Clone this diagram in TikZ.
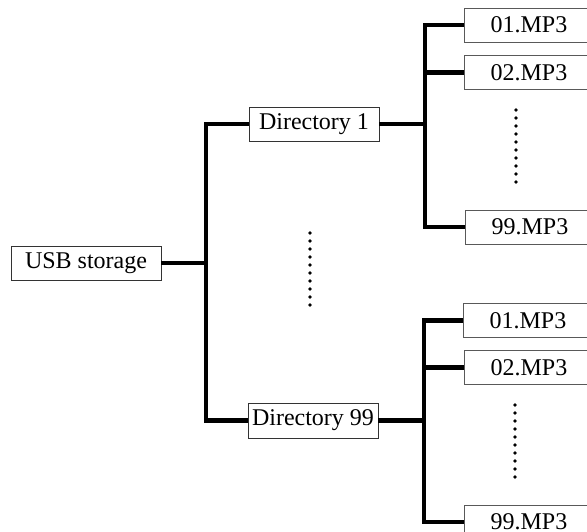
\documentclass[tikz,border=0pt]{standalone}
\usepackage{fontspec}
\setmainfont{Liberation Serif}
\begin{document}
\begin{tikzpicture}[x=1pt,y=-1pt,
  box/.style={draw=black!80,line width=0.9pt,fill=white,inner sep=0pt,
    font=\fontsize{24}{28}\selectfont,minimum height=34pt},
  filebox/.style={box,draw=black!65,minimum width=130pt},
  tree/.style={line width=4.2pt,line join=miter,line cap=butt},
  dotmark/.style={fill=black}]
\useasboundingbox (0,0) rectangle (587,531);
\clip (0,0) rectangle (587,531);
% root and directories
\node[box,minimum width=150pt] (usb) at (86,263) {USB storage};
\node[box,minimum width=130pt] (d1) at (314,124) {Directory 1};
\node[box,minimum width=130pt,minimum height=35pt] (d99) at (313,420.5) {Directory 99};
% files of directory 1
\node[filebox] (a1) at (529,25) {01.MP3};
\node[filebox] (a2) at (529,72.5) {02.MP3};
\node[filebox] (a99) at (530,227) {99.MP3};
% files of directory 99
\node[filebox] (b1) at (528,320.5) {01.MP3};
\node[filebox] (b2) at (529,367.5) {02.MP3};
\node[filebox] (b99) at (529,522) {99.MP3};
% junctions
\coordinate (j1) at (206,263);
\coordinate (ja) at (425,124);
\coordinate (jb) at (424,420.5);
% tree lines
\draw[tree] (usb.east) -- (j1);
\draw[tree] (d1.west) -| (j1) |- (d99.west);
\draw[tree] (d1.east) -- (ja);
\draw[tree] (a1.west) -| (ja) |- (a99.west);
\draw[tree] (ja |- a2.west) -- (a2.west);
\draw[tree] (d99.east) -- (jb);
\draw[tree] (b1.west) -| (jb) |- (b99.west);
\draw[tree] (jb |- b2.west) -- (b2.west);
% vertical dots
\foreach \k in {0,...,9}{
  \fill[dotmark] (516,110+8*\k) circle (1.8);
  \fill[dotmark] (310,233+8*\k) circle (1.8);
  \fill[dotmark] (515,405+8*\k) circle (1.8);
}
\end{tikzpicture}
\end{document}
